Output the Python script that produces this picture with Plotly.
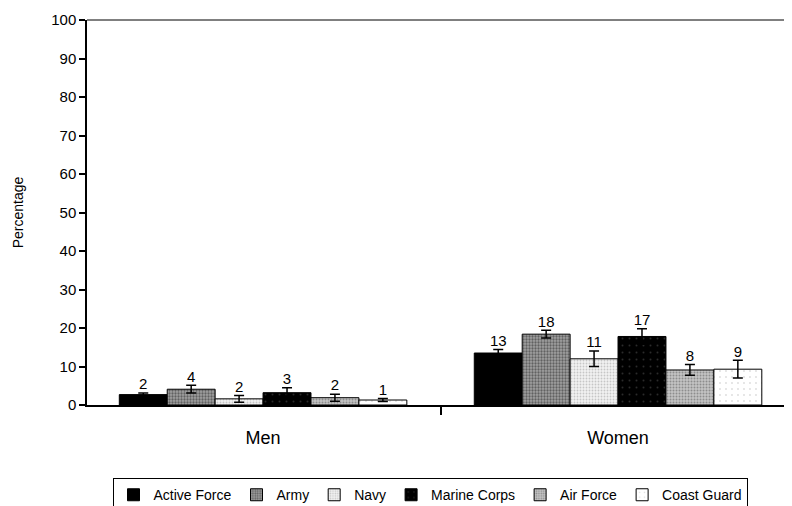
import plotly.graph_objects as go

groups = ["Men", "Women"]
services = ["Active Force", "Army", "Navy", "Marine Corps", "Air Force", "Coast Guard"]
values = {
    "Active Force": [2.7, 13.5],
    "Army": [4.1, 18.4],
    "Navy": [1.6, 12.0],
    "Marine Corps": [3.2, 17.8],
    "Air Force": [1.9, 9.1],
    "Coast Guard": [1.3, 9.3],
}
errors = {
    "Active Force": [0.4, 0.9],
    "Army": [1.0, 1.0],
    "Navy": [0.9, 2.0],
    "Marine Corps": [1.3, 2.0],
    "Air Force": [0.9, 1.4],
    "Coast Guard": [0.4, 2.3],
}
labels = {
    "Active Force": ["2", "13"],
    "Army": ["4", "18"],
    "Navy": ["2", "11"],
    "Marine Corps": ["3", "17"],
    "Air Force": ["2", "8"],
    "Coast Guard": ["1", "9"],
}
y_ticks = [0, 10, 20, 30, 40, 50, 60, 70, 80, 90, 100]

styles = {
    "Active Force": dict(color="#000000", pattern=None),
    "Army": dict(color="#8a8a8a", pattern=dict(shape=".", fgcolor="#222222", bgcolor="#a0a0a0", size=3, solidity=0.45)),
    "Navy": dict(color="#eeeeee", pattern=dict(shape=".", fgcolor="#999999", bgcolor="#f2f2f2", size=3, solidity=0.3)),
    "Marine Corps": dict(color="#000000", pattern=dict(shape=".", fgcolor="#555555", bgcolor="#000000", size=7, solidity=0.06)),
    "Air Force": dict(color="#b0b0b0", pattern=dict(shape=".", fgcolor="#555555", bgcolor="#c4c4c4", size=3, solidity=0.35)),
    "Coast Guard": dict(color="#ffffff", pattern=dict(shape=".", fgcolor="#bbbbbb", bgcolor="#ffffff", size=6, solidity=0.08)),
}

bar_w = 0.135
n = len(services)
fig = go.Figure()
for j, s in enumerate(services):
    xs = [i + (j - (n - 1) / 2) * bar_w for i in range(len(groups))]
    marker = dict(color=styles[s]["color"], line=dict(color="#000000", width=1))
    if styles[s]["pattern"]:
        marker["pattern"] = styles[s]["pattern"]
    fig.add_trace(go.Bar(
        x=xs, y=values[s], width=bar_w, name=s, marker=marker,
        error_y=dict(type="data", array=errors[s], color="#000000", thickness=1.5, width=5),
        hoverinfo="skip",
    ))
    fig.add_trace(go.Scatter(
        x=xs, y=[v + e for v, e in zip(values[s], errors[s])],
        mode="text", text=labels[s], textposition="top center",
        textfont=dict(family="Liberation Sans, Arial", size=15, color="#000000"),
        showlegend=False, hoverinfo="skip",
    ))

fig.update_layout(
    width=784, height=498,
    margin=dict(l=79, r=5, t=12, b=101, autoexpand=False),
    paper_bgcolor="white", plot_bgcolor="white",
    barmode="overlay",
    font=dict(family="Liberation Sans, Arial", color="#000"),
    xaxis=dict(
        range=[-0.496, 1.476], automargin=False,
        tickvals=[0, 1], ticktext=groups, ticks="",
        tickfont=dict(size=18), showgrid=False, zeroline=False,
        showline=True, linecolor="#000", linewidth=1.5,
        ticklabelstandoff=16,
        minor=dict(tickvals=[0.5], ticks="outside", ticklen=8, tickwidth=1.5, tickcolor="#000"),
    ),
    yaxis=dict(
        range=[0, 100], tickvals=y_ticks, ticks="outside", ticklen=6, tickwidth=1.5,
        tickcolor="#000", showgrid=False, zeroline=False, automargin=False,
        showline=True, linecolor="#000", linewidth=1.5,
        tickfont=dict(size=15),
        title=dict(text="Percentage", font=dict(size=14), standoff=24),
    ),
    legend=dict(
        orientation="h", x=0.49, xanchor="center", y=-0.19, yanchor="top",
        bordercolor="#000", borderwidth=1, font=dict(size=14),
        itemwidth=30, tracegroupgap=0,
    ),
    shapes=[dict(type="line", xref="paper", yref="paper", x0=0, x1=1.01, y0=1, y1=1,
                 line=dict(color="#000", width=1))],
)

fig.write_html("out.html")
